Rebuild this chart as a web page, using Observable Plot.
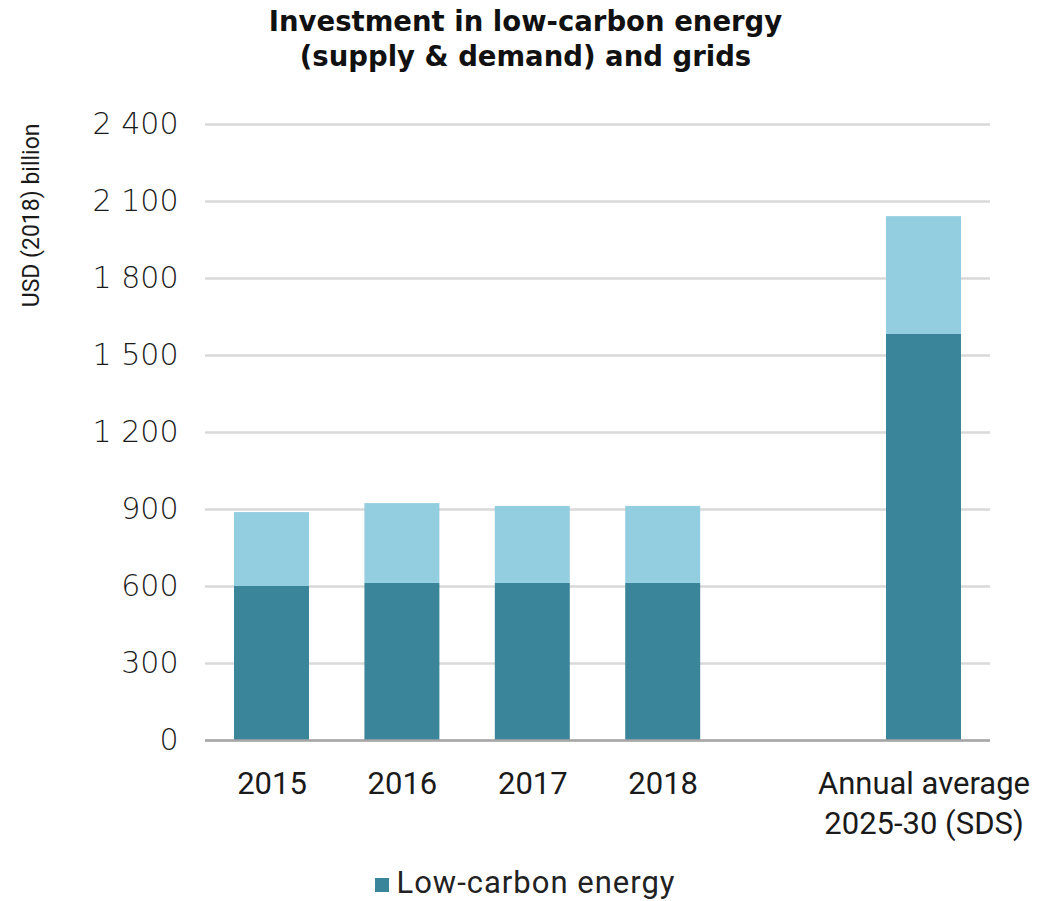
<!DOCTYPE html>
<html>
<head>
<meta charset="utf-8">
<script src="https://cdn.jsdelivr.net/npm/d3@7"></script>
<script src="https://cdn.jsdelivr.net/npm/@observablehq/plot@0.6"></script>
<style>
  html, body { margin: 0; background: #fff; font-family: Roboto, "Noto Sans", sans-serif; overflow: hidden; }
  #title { width: 1051px; height: 80px; text-align: center; font-family: "DejaVu Sans", sans-serif; font-weight: 700; font-size: 27.5px; line-height: 35px; padding-top: 4px; box-sizing: border-box; color: #111; }
  #legend { width: 1051px; text-align: center; font-size: 31px; line-height: 32px; color: #222; margin-top: 15px; letter-spacing: 1px; }
  #legend .sw { display: inline-block; width: 14px; height: 14px; background: #3a8599; margin-right: 7px; vertical-align: 1px; }
</style>
</head>
<body>
<div id="title">Investment in low-carbon energy<br>(supply &amp; demand) and grids</div>
<div id="chart"></div>
<div id="legend"><span class="sw"></span>Low-carbon energy</div>
<script>
const categories = ["2015", "2016", "2017", "2018", "Annual average\n2025-30 (SDS)"];
const lowCarbon = [600, 612, 612, 612, 1582];
const grids = [288, 311, 300, 300, 459];
const seriesNames = ["Low-carbon energy", "Grids"];
const seriesColors = ["#3a8599", "#93cde0"];
const yTicks = [0, 300, 600, 900, 1200, 1500, 1800, 2100, 2400];
const yTickLabels = ["0", "300", "600", "900", "1 200", "1 500", "1 800", "2 100", "2 400"];
const gapKey = "gap";

const rows = [];
categories.forEach((c, i) => rows.push({category: c, series: seriesNames[0], value: lowCarbon[i]}));
categories.forEach((c, i) => rows.push({category: c, series: seriesNames[1], value: grids[i]}));

const xDomain = [...categories.slice(0, 4), gapKey, categories[4]];

const chart = Plot.plot({
  width: 1051,
  height: 772,
  marginLeft: 205,
  marginRight: 61,
  marginTop: 44,
  marginBottom: 112,
  style: {fontFamily: "Roboto, 'Noto Sans', sans-serif", color: "#1a1a1a", background: "#fff"},
  x: {domain: xDomain, paddingInner: 0.425, paddingOuter: 0.2225, round: false, label: null},
  y: {domain: [0, 2400], label: null},
  color: {domain: seriesNames, range: seriesColors},
  marks: [
    Plot.gridY(yTicks, {stroke: "#d9d9d9", strokeOpacity: 1, strokeWidth: 2.5}),
    Plot.barY(rows, {x: "category", y: "value", fill: "series", order: null}),
    Plot.ruleY([0], {stroke: "#a6a6a6", strokeWidth: 2.5}),
    Plot.axisY(yTicks, {tickSize: 0, tickPadding: 27, fontSize: 30, fontFamily: "'DejaVu Sans', sans-serif", fontWeight: 300, tickFormat: d => yTickLabels[yTicks.indexOf(d)], label: null}),
    Plot.axisX({tickSize: 0, tickPadding: 25, fontSize: 31, lineHeight: 1.29, tickFormat: d => d === gapKey ? "" : d, label: null}),
    Plot.text(["USD (2018) billion"], {frameAnchor: "top-left", text: d => d, rotate: -90, textAnchor: "end", dx: -183, dy: -1, fontSize: 23})
  ]
});
document.getElementById("chart").appendChild(chart);
</script>
</body>
</html>
